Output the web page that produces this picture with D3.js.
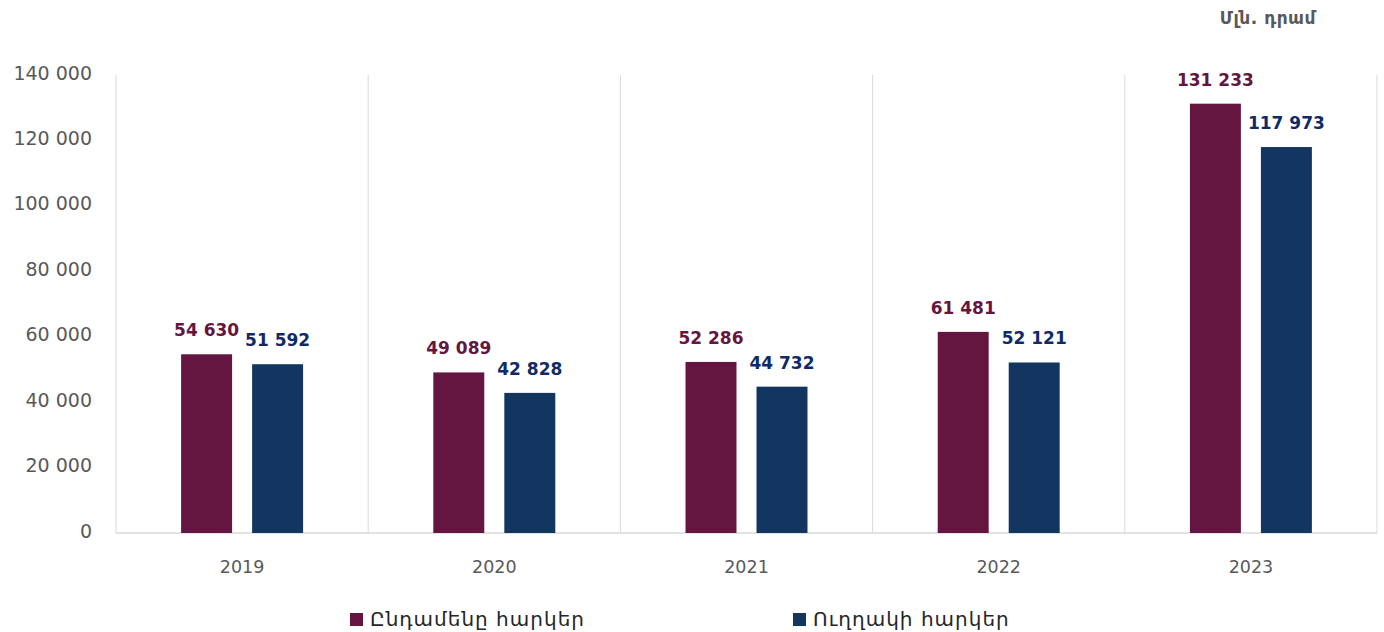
<!DOCTYPE html>
<html>
<head>
<meta charset="utf-8">
<script src="https://cdn.jsdelivr.net/npm/d3@7"></script>
<style>
  html, body { margin: 0; padding: 0; background: #ffffff; }
  svg { display: block; font-family: "DejaVu Sans", "Noto Sans", sans-serif; }
</style>
</head>
<body>
<svg id="chart" width="1384" height="632"></svg>
<script>
const years = ["2019", "2020", "2021", "2022", "2023"];
const totalTaxes = [54630, 49089, 52286, 61481, 131233];
const directTaxes = [51592, 42828, 44732, 52121, 117973];
const seriesNames = ["Ընդամենը հարկեր", "Ուղղակի հարկեր"];
const yTicks = [0, 20000, 40000, 60000, 80000, 100000, 120000, 140000];
const unitLabel = "Մլն. դրամ";

const colors = ["#641641", "#12365F"];
const labelColors = ["#641641", "#0F2A66"];

const svg = d3.select("#chart");
const plotLeft = 116, plotRight = 1377, plotTop = 75, plotBottom = 533;

const x = d3.scaleBand().domain(years).range([plotLeft, plotRight]).paddingInner(0).paddingOuter(0);
const x1 = d3.scaleBand().domain([0, 1]).range([0, x.bandwidth()]).paddingInner(0.282).paddingOuter(0.917);
const y = d3.scaleLinear().domain([0, 140000]).range([plotBottom, plotTop]);

const fmt = v => d3.format(",")(v).replace(/,/g, " ");

// vertical gridlines at category boundaries
const bounds = years.map(d => x(d)).concat([plotRight]);
svg.append("g").selectAll("line").data(bounds).join("line")
  .attr("x1", d => d).attr("x2", d => d)
  .attr("y1", y(140000)).attr("y2", y(0))
  .attr("stroke", "#d9d9d9").attr("stroke-width", 1);

// baseline
svg.append("line")
  .attr("x1", plotLeft).attr("x2", plotRight)
  .attr("y1", y(0)).attr("y2", y(0))
  .attr("stroke", "#d9d9d9").attr("stroke-width", 1.5);

// y axis labels
const yAxis = d3.axisLeft(y).tickValues(yTicks).tickFormat(fmt).tickSize(0).tickPadding(0);
const gy = svg.append("g").attr("transform", `translate(92,0)`).call(yAxis);
gy.select(".domain").remove();
gy.selectAll("text")
  .attr("fill", "#595959")
  .style("font-family", "'DejaVu Sans', sans-serif")
  .style("font-size", "19px")
  .attr("dy", "0.32em")
  .attr("transform", "translate(0,-2)");

// x axis labels
const xAxis = d3.axisBottom(x).tickSize(0).tickPadding(0);
const gx = svg.append("g").attr("transform", `translate(0,${y(0)})`).call(xAxis);
gx.select(".domain").remove();
gx.selectAll("text")
  .attr("fill", "#595959")
  .style("font-family", "'DejaVu Sans', sans-serif")
  .style("font-size", "17.5px")
  .attr("dy", "0")
  .attr("y", 40);

const series = [totalTaxes, directTaxes];
series.forEach((vals, si) => {
  const g = svg.append("g");
  g.selectAll("rect").data(vals).join("rect")
    .attr("x", (d, i) => x(years[i]) + x1(si))
    .attr("width", x1.bandwidth())
    .attr("y", d => y(d))
    .attr("height", d => y(0) - y(d))
    .attr("fill", colors[si]);
  g.selectAll("text").data(vals).join("text")
    .attr("x", (d, i) => x(years[i]) + x1(si) + x1.bandwidth() / 2)
    .attr("y", d => y(d) - 18)
    .attr("text-anchor", "middle")
    .attr("fill", labelColors[si])
    .style("font-size", "17px")
    .style("font-weight", "700")
    .text(d => fmt(d));
});

// unit label
svg.append("text")
  .attr("x", 1316).attr("y", 24)
  .attr("text-anchor", "end")
  .attr("fill", "#595959")
  .style("font-size", "17px")
  .style("font-weight", "700")
  .style("letter-spacing", "0.5px")
  .text(unitLabel);

// legend
const legendX = [350, 793];
seriesNames.forEach((name, si) => {
  svg.append("rect")
    .attr("x", legendX[si]).attr("y", 613)
    .attr("width", 13).attr("height", 13)
    .attr("fill", colors[si]);
  svg.append("text")
    .attr("x", legendX[si] + 20).attr("y", 626)
    .attr("fill", "#262626")
    .style("font-size", "20px")
    .style("letter-spacing", "1px")
    .text(name);
});
</script>
</body>
</html>
